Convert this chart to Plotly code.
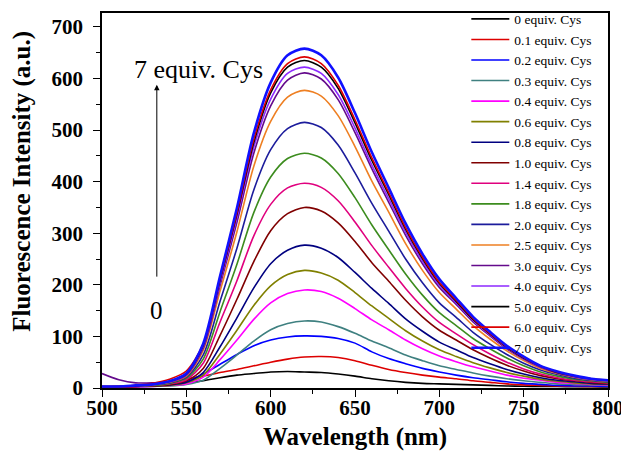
import plotly.graph_objects as go

wavelength = list(range(500, 801, 10))

labels = ["0 equiv. Cys", "0.1 equiv. Cys", "0.2 equiv. Cys", "0.3 equiv. Cys",
          "0.4 equiv. Cys", "0.6 equiv. Cys", "0.8 equiv. Cys", "1.0 equiv. Cys",
          "1.4 equiv. Cys", "1.8 equiv. Cys", "2.0 equiv. Cys", "2.5 equiv. Cys",
          "3.0 equiv. Cys", "4.0 equiv. Cys", "5.0 equiv. Cys", "6.0 equiv. Cys",
          "7.0 equiv. Cys"]

colors = ["#000000", "#DD0000", "#0000FF", "#3F8080", "#FF00FF", "#808000",
          "#000080", "#800000", "#E0007E", "#3C8C1E", "#1C1C9C", "#EE7F22",
          "#640A8C", "#8C28FF", "#000000", "#DD0000", "#1010FF"]

s_0 = [1, 2, 3, 5, 7, 10, 14, 20, 25, 28, 31, 32, 31, 30, 27, 23, 18, 14, 11, 9,
       8, 7, 6, 5, 4, 3.5, 3, 3, 2.5, 2.5, 2]
s_01 = [2, 3, 4, 8, 12, 17, 23, 30, 36, 43, 50, 56, 60, 61, 59, 53, 44, 36, 30, 25,
        21, 18, 14, 11, 8, 6, 5, 4, 3.5, 3, 3]
s_02 = [1, 2, 3, 4, 6, 12, 27, 46, 65, 82, 93, 99, 101, 100, 96, 87, 70, 57, 47, 38,
        31, 25, 20, 16, 12, 9, 7, 5, 4, 4, 3]
s_03 = [1, 2, 2, 3, 4, 7, 15, 38, 64, 91, 113, 125, 130, 128, 119, 106, 91, 78, 64, 53,
        43, 36, 29, 23, 18, 14, 11, 8, 7, 6, 5]
s_04 = [2, 2, 2, 3, 5, 8, 21, 55, 93, 133, 165, 183, 190, 187, 174, 154, 132, 113, 93, 76,
        62, 51, 41, 33, 25, 19, 15, 11, 9, 7, 6]
s_06 = [2, 2, 3, 4, 5, 10, 25, 66, 112, 160, 198, 220, 228, 223, 209, 185, 159, 135, 111, 91,
        74, 61, 49, 39, 30, 23, 17, 13, 10, 8, 7]
s_08 = [2, 2, 3, 4, 6, 11, 30, 80, 136, 194, 241, 267, 277, 271, 253, 224, 193, 164, 134, 110,
        89, 74, 59, 47, 36, 27, 20, 15, 12, 9, 8]
s_10 = [2, 2, 3, 4, 7, 14, 38, 102, 172, 245, 305, 338, 350, 343, 320, 284, 243, 207, 170, 138,
        112, 93, 74, 58, 44, 33, 24, 18, 14, 11, 9]
s_14 = [2, 2, 3, 5, 8, 16, 48, 128, 208, 295, 356, 388, 397, 389, 363, 322, 276, 234, 193, 157,
        127, 105, 84, 66, 50, 37, 27, 20, 15, 12, 10]
s_18 = [2, 3, 4, 5, 9, 19, 56, 148, 240, 340, 409, 445, 455, 446, 416, 369, 316, 268, 221, 180,
        146, 121, 96, 76, 58, 43, 31, 23, 17, 14, 11]
s_20 = [2, 3, 4, 6, 10, 21, 64, 168, 271, 384, 462, 503, 515, 505, 471, 417, 358, 304, 250, 204,
        165, 137, 108, 85, 65, 48, 35, 26, 19, 15, 12]
s_25 = [3, 3, 4, 6, 11, 23, 73, 188, 303, 430, 517, 564, 577, 566, 528, 468, 401, 341, 280, 228,
        185, 153, 121, 95, 72, 53, 38, 28, 21, 16, 13]
s_30 = [28, 16, 10, 10, 12, 25, 77, 199, 321, 455, 547, 597, 611, 599, 559, 495, 425, 360, 296, 241,
        195, 162, 128, 101, 76, 56, 40, 29, 22, 17, 14]
s_40 = [3, 3, 4, 7, 12, 26, 81, 205, 330, 467, 560, 610, 622, 610, 569, 504, 432, 367, 302, 246,
        199, 165, 131, 103, 78, 57, 41, 30, 22, 17, 14]
s_50 = [3, 3, 4, 7, 13, 27, 83, 210, 337, 476, 572, 622, 635, 622, 581, 514, 441, 375, 308, 251,
        203, 168, 133, 105, 79, 58, 42, 30, 23, 18, 15]
s_60 = [3, 3, 5, 9, 17, 33, 85, 212, 340, 482, 578, 629, 642, 629, 587, 520, 446, 379, 311, 254,
        205, 170, 135, 106, 80, 59, 42, 31, 23, 18, 15]
s_70 = [3, 3, 5, 7, 13, 28, 86, 217, 349, 494, 592, 645, 658, 645, 602, 533, 457, 388, 319, 260,
        211, 174, 138, 109, 82, 61, 43, 32, 24, 18, 15]

series = [s_0, s_01, s_02, s_03, s_04, s_06, s_08, s_10, s_14, s_18, s_20, s_25,
          s_30, s_40, s_50, s_60, s_70]

x_ticks = [500, 550, 600, 650, 700, 750, 800]
y_ticks = [0, 100, 200, 300, 400, 500, 600, 700]

FONT = "Liberation Serif, Times New Roman, serif"

fig = go.Figure()
for i, (lab, col, ys) in enumerate(zip(labels, colors, series)):
    fig.add_trace(go.Scatter(
        x=wavelength, y=ys, mode="lines", name=lab,
        line=dict(color=col, width=2.6 if i == len(series) - 1 else 1.6,
                  shape="spline", smoothing=0.8),
    ))

axis_common = dict(
    showline=True, linecolor="black", linewidth=1.5, mirror=True,
    ticks="outside", ticklen=7, tickwidth=1.3, tickcolor="black",
    showgrid=False, zeroline=False, automargin=False,
    tickfont=dict(family=FONT, size=21, color="black", weight="bold"),
    title_font=dict(family=FONT, size=25, color="black", weight="bold"),
)

# the page adds an 8 px body margin, so the figure is 8 px smaller on each axis
fig.update_layout(
    width=621, height=443,
    margin=dict(l=94, r=21, t=5, b=63, autoexpand=False),
    paper_bgcolor="white", plot_bgcolor="white",
    showlegend=True,
    legend=dict(x=0.72, y=0.545, xanchor="left", yanchor="middle",
                bgcolor="rgba(0,0,0,0)", borderwidth=0,
                font=dict(family=FONT, size=13.5, color="black"),
                itemwidth=38, tracegroupgap=0),
    xaxis=dict(range=[500, 800], tickvals=x_ticks,
               minor=dict(dtick=25, ticklen=4, tickcolor="black", ticks="outside"),
               ticklabelstandoff=-7,
               title=dict(text="Wavelength (nm)", standoff=17), **axis_common),
    yaxis=dict(range=[0, 727], tickvals=y_ticks,
               minor=dict(dtick=50, ticklen=4, tickcolor="black", ticks="outside"),
               ticklabelstandoff=6, **axis_common),
    annotations=[
        dict(x=-0.158, y=0.55, xref="paper", yref="paper", xanchor="center", yanchor="middle",
             text="Fluorescence Intensity (a.u.)", textangle=-90, showarrow=False,
             font=dict(family=FONT, size=25, color="black", weight="bold")),
        dict(x=557, y=617, xref="x", yref="y", text="7 equiv. Cys", showarrow=False,
             font=dict(family=FONT, size=26, color="black")),
        dict(x=532.5, y=150, xref="x", yref="y", text="0", showarrow=False,
             font=dict(family=FONT, size=25, color="black")),
        dict(x=532.5, y=588, ax=532.5, ay=213, xref="x", yref="y", axref="x", ayref="y",
             text="", showarrow=True, arrowhead=2, arrowsize=1.1, arrowwidth=1,
             arrowcolor="black"),
    ],
)

fig.write_html("out.html")
